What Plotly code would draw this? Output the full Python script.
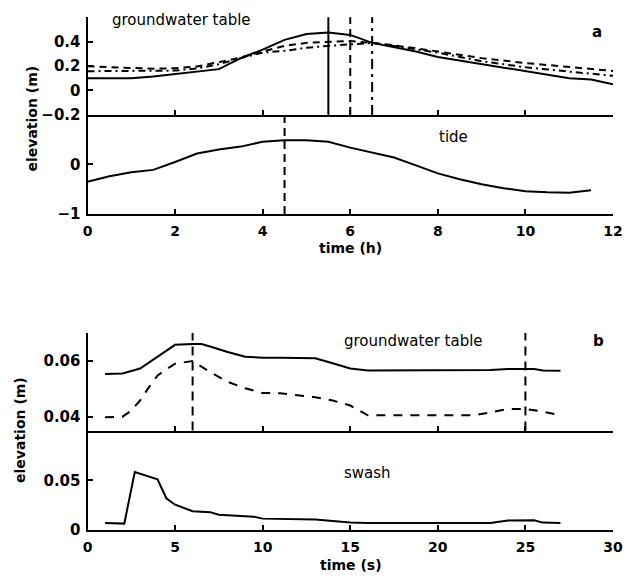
import plotly.graph_objects as go

W, H = 635, 588

# ---------------- panel a data ----------------
a_gw_solid_t = [0, 1, 1.5, 2, 2.5, 3, 3.5, 4, 4.5, 5, 5.5, 6, 6.5, 7, 7.5, 8, 8.5, 9, 9.5, 10, 10.5, 11, 11.5, 12]
a_gw_solid_v = [0.10, 0.10, 0.115, 0.135, 0.16, 0.175, 0.265, 0.335, 0.415, 0.462, 0.475, 0.455, 0.39, 0.355, 0.32, 0.275, 0.245, 0.22, 0.19, 0.16, 0.125, 0.10, 0.09, 0.05]

a_gw_dash_t = [0, 1, 1.5, 2, 2.5, 3, 3.5, 4, 4.5, 5, 5.5, 6, 6.5, 7, 8, 9, 10, 11, 12]
a_gw_dash_v = [0.198, 0.185, 0.178, 0.182, 0.197, 0.232, 0.27, 0.32, 0.365, 0.39, 0.40, 0.405, 0.39, 0.37, 0.32, 0.265, 0.225, 0.19, 0.16]

a_gw_dashdot_t = [0, 1, 2, 2.5, 3, 3.5, 4, 4.5, 5, 5.5, 6, 6.5, 7, 8, 9, 10, 11, 12]
a_gw_dashdot_v = [0.158, 0.158, 0.163, 0.18, 0.215, 0.265, 0.31, 0.325, 0.35, 0.365, 0.38, 0.39, 0.365, 0.31, 0.24, 0.19, 0.155, 0.12]

a_peak_solid = [5.5]
a_peak_dash = [6.0]
a_peak_dashdot = [6.5]

tide_t = [0, 0.5, 1, 1.5, 2, 2.5, 3, 3.5, 4, 4.5, 5, 5.5, 6, 6.5, 7, 7.5, 8, 8.5, 9, 9.5, 10, 10.5, 11, 11.5]
tide_v = [-0.35, -0.24, -0.16, -0.11, 0.05, 0.22, 0.30, 0.36, 0.46, 0.49, 0.49, 0.46, 0.34, 0.24, 0.14, -0.02, -0.18, -0.30, -0.40, -0.48, -0.54, -0.56, -0.57, -0.52]
tide_peak = [4.5]

a_xticks = [0, 2, 4, 6, 8, 10, 12]
a_gw_yticks = [-0.2, 0, 0.2, 0.4]
tide_yticks = [-1, 0]

# ---------------- panel b data ----------------
b_gw_solid_t = [1, 2, 3, 4, 5, 6, 6.5, 7, 8, 9, 10, 11, 12, 13, 14, 15, 16, 18, 20, 22, 23, 24, 25, 25.5, 26, 27]
b_gw_solid_v = [0.0553, 0.0555, 0.0573, 0.0617, 0.0658, 0.0661, 0.0661, 0.0652, 0.0632, 0.0615, 0.0612, 0.0612, 0.0611, 0.0610, 0.0592, 0.0573, 0.0566, 0.0566, 0.0566, 0.0566, 0.0568, 0.0571, 0.0572, 0.0571, 0.0566, 0.0565]

b_gw_dash_t = [1, 2, 2.5, 3, 3.5, 4, 4.5, 5, 5.5, 6, 7, 8, 9, 10, 11, 12, 13, 14, 15, 16, 18, 20, 22, 23, 24, 25, 26, 27]
b_gw_dash_v = [0.0398, 0.0400, 0.0422, 0.0458, 0.0505, 0.0548, 0.0570, 0.0590, 0.0595, 0.0600, 0.0560, 0.0525, 0.0502, 0.0485, 0.0484, 0.0478, 0.0470, 0.0458, 0.0440, 0.0405, 0.0405, 0.0405, 0.0405, 0.0415, 0.0428, 0.0428, 0.0418, 0.0405]

b_peaks = [6, 25]

swash_t = [1, 2.1, 2.7, 4, 4.5, 5, 6, 7, 7.5, 9, 9.5, 10, 13, 15, 16, 20, 23, 24, 25.5, 26, 27]
swash_v = [0.0072, 0.0065, 0.0583, 0.051, 0.032, 0.0255, 0.019, 0.018, 0.0155, 0.0145, 0.0135, 0.0115, 0.0105, 0.0075, 0.0072, 0.0072, 0.0072, 0.0095, 0.0098, 0.0075, 0.0072]

b_xticks = [0, 5, 10, 15, 20, 25, 30]
b_gw_yticks = [0.04, 0.06]
swash_yticks = [0, 0.05]


def px(x):
    return x / W


def py(y):
    return 1 - y / H


LW = 2
BLACK = "black"
fig = go.Figure()


def line(x, y, xa, ya, dash="solid"):
    fig.add_trace(go.Scatter(x=x, y=y, mode="lines", xaxis=xa, yaxis=ya,
                             line=dict(color=BLACK, width=LW, dash=dash),
                             showlegend=False, hoverinfo="skip"))


line(a_gw_solid_t, a_gw_solid_v, "x", "y")
line(a_gw_dash_t, a_gw_dash_v, "x", "y", "7px,5px")
line(a_gw_dashdot_t, a_gw_dashdot_v, "x", "y", "7px,4px,2px,4px")
line(tide_t, tide_v, "x2", "y2")
line(b_gw_solid_t, b_gw_solid_v, "x3", "y3")
line(b_gw_dash_t, b_gw_dash_v, "x3", "y3", "9px,8px")
line(swash_t, swash_v, "x4", "y4")

shapes = []


def vline(xv, xref, yref, dash):
    shapes.append(dict(type="line", xref=xref, yref=yref + " domain", x0=xv, x1=xv, y0=0, y1=1,
                       line=dict(color=BLACK, width=LW, dash=dash)))


for v in a_peak_solid:
    vline(v, "x", "y", "solid")
for v in a_peak_dash:
    vline(v, "x", "y", "8px,5px")
for v in a_peak_dashdot:
    vline(v, "x", "y", "10px,5px,3px,5px")
for v in tide_peak:
    vline(v, "x2", "y2", "8px,5px")
for v in b_peaks:
    vline(v, "x3", "y3", "9px,6px")

XDOM = [px(84.5), px(622.7)]
XTICKFONT = dict(family="DejaVu Sans", size=14, color=BLACK, weight="bold")
YTICKFONT = dict(family="DejaVu Sans", size=15, color=BLACK, weight="bold")
common = dict(showline=True, linecolor=BLACK, linewidth=2, ticks="inside", ticklen=5,
              tickwidth=1.6, tickcolor=BLACK, showgrid=False, zeroline=False, fixedrange=True)
xcommon = dict(tickfont=XTICKFONT, ticklabelstandoff=3, **common)
ycommon = dict(tickfont=YTICKFONT, ticklabelstandoff=2, **common)

fig.update_layout(
    width=W, height=H, margin=dict(l=0, r=0, t=0, b=0),
    paper_bgcolor="white", plot_bgcolor="white",
    xaxis=dict(domain=XDOM, range=[0, 12], anchor="y", tickvals=a_xticks, showticklabels=False, **xcommon),
    yaxis=dict(domain=[py(116.7), py(17.5)], range=[-0.2, 0.6], anchor="x", tickvals=a_gw_yticks, **ycommon),
    xaxis2=dict(domain=XDOM, range=[0, 12], anchor="y2", tickvals=a_xticks, **xcommon),
    yaxis2=dict(domain=[py(217.3), py(116.7)], range=[-1, 1], anchor="x2", tickvals=tide_yticks, **ycommon),
    xaxis3=dict(domain=XDOM, range=[0, 30], anchor="y3", tickvals=b_xticks, showticklabels=False, **xcommon),
    yaxis3=dict(domain=[py(437.3), py(338.3)], range=[0.035, 0.07], anchor="x3", tickvals=b_gw_yticks, **ycommon),
    xaxis4=dict(domain=XDOM, range=[0, 30], anchor="y4", tickvals=b_xticks, **xcommon),
    yaxis4=dict(domain=[py(538.3), py(437.3)], range=[0, 0.1], anchor="x4", tickvals=swash_yticks, **ycommon),
    shapes=shapes,
)

LABFONT = dict(family="DejaVu Sans", size=15, color=BLACK)
TITFONT = dict(family="DejaVu Sans", size=14, color=BLACK, weight="bold")


def ann(text, x, y, font, xanchor="center", angle=0):
    fig.add_annotation(text=text, x=px(x), y=py(y), xref="paper", yref="paper",
                       xanchor=xanchor, yanchor="middle", showarrow=False,
                       font=font, textangle=angle)


ann("groundwater table", 108, 20, LABFONT, "left")
ann("a", 606, 32, dict(family="DejaVu Sans", size=15, color=BLACK, weight="bold"))
ann("tide", 459, 139, LABFONT)
ann("time (h)", 354, 252, TITFONT)
ann("elevation (m)", 28, 120, TITFONT, angle=-90)

ann("groundwater table", 345, 346, LABFONT, "left")
ann("b", 608, 346, dict(family="DejaVu Sans", size=15, color=BLACK, weight="bold"))
ann("swash", 345, 480, LABFONT, "left")
ann("time (s)", 354, 574, TITFONT)
ann("elevation (m)", 16, 437, TITFONT, angle=-90)

fig.write_html("out.html")
